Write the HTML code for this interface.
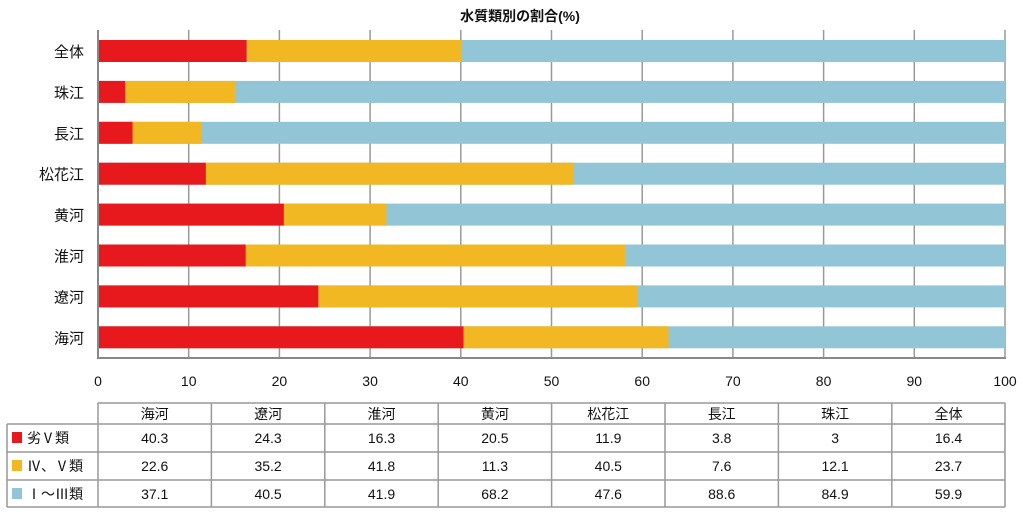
<!DOCTYPE html><html><head><meta charset="utf-8"><style>
body{margin:0;background:#fff;width:1023px;height:518px;overflow:hidden}
</style></head><body>
<svg width="1023" height="518" xmlns="http://www.w3.org/2000/svg" font-family="Liberation Sans, Noto Sans CJK JP, sans-serif" fill="#111">
<text x="520" y="21" font-size="14" font-weight="bold" text-anchor="middle">水質類別の割合(%)</text>
<g stroke="#999" stroke-width="1.5">
<line x1="188.7" y1="30" x2="188.7" y2="358"/><line x1="279.4" y1="30" x2="279.4" y2="358"/><line x1="370.1" y1="30" x2="370.1" y2="358"/><line x1="460.8" y1="30" x2="460.8" y2="358"/><line x1="551.5" y1="30" x2="551.5" y2="358"/><line x1="642.2" y1="30" x2="642.2" y2="358"/><line x1="732.9" y1="30" x2="732.9" y2="358"/><line x1="823.6" y1="30" x2="823.6" y2="358"/><line x1="914.3" y1="30" x2="914.3" y2="358"/><line x1="1005" y1="30" x2="1005" y2="358"/>
</g>
<g fill="#92c5d5">
<rect x="98" y="40" width="907" height="22"/><rect x="98" y="80.9" width="907" height="22"/><rect x="98" y="121.8" width="907" height="22"/><rect x="98" y="162.7" width="907" height="22"/><rect x="98" y="203.6" width="907" height="22"/><rect x="98" y="244.5" width="907" height="22"/><rect x="98" y="285.4" width="907" height="22"/><rect x="98" y="326.3" width="907" height="22"/>
</g>
<g fill="#e8191d">
<rect x="98" y="40" width="148.7" height="22"/><rect x="98" y="80.9" width="27.2" height="22"/><rect x="98" y="121.8" width="34.5" height="22"/><rect x="98" y="162.7" width="107.9" height="22"/><rect x="98" y="203.6" width="185.9" height="22"/><rect x="98" y="244.5" width="147.8" height="22"/><rect x="98" y="285.4" width="220.4" height="22"/><rect x="98" y="326.3" width="365.5" height="22"/>
</g>
<g fill="#f2b824">
<rect x="246.7" y="40" width="215" height="22"/><rect x="125.2" y="80.9" width="109.7" height="22"/><rect x="132.5" y="121.8" width="68.9" height="22"/><rect x="205.9" y="162.7" width="367.3" height="22"/><rect x="283.9" y="203.6" width="102.5" height="22"/><rect x="245.8" y="244.5" width="379.1" height="22"/><rect x="318.4" y="285.4" width="319.3" height="22"/><rect x="463.5" y="326.3" width="205" height="22"/>
</g>
<line x1="98" y1="30" x2="98" y2="359" stroke="#888" stroke-width="2"/>
<line x1="97" y1="358" x2="1006" y2="358" stroke="#888" stroke-width="2"/>
<g font-size="15" text-anchor="end">
<text x="84" y="57">全体</text><text x="84" y="97.9">珠江</text><text x="84" y="138.8">長江</text><text x="84" y="179.7">松花江</text><text x="84" y="220.6">黄河</text><text x="84" y="261.5">淮河</text><text x="84" y="302.4">遼河</text><text x="84" y="343.3">海河</text>
</g>
<g font-size="14" text-anchor="middle">
<text x="98" y="386">0</text><text x="188.7" y="386">10</text><text x="279.4" y="386">20</text><text x="370.1" y="386">30</text><text x="460.8" y="386">40</text><text x="551.5" y="386">50</text><text x="642.2" y="386">60</text><text x="732.9" y="386">70</text><text x="823.6" y="386">80</text><text x="914.3" y="386">90</text><text x="1005" y="386">100</text>
</g>
<g stroke="#999" stroke-width="1.5" fill="none">
<line x1="98" y1="403" x2="1005" y2="403"/><line x1="7" y1="424" x2="1005" y2="424"/><line x1="7" y1="452" x2="1005" y2="452"/><line x1="7" y1="480" x2="1005" y2="480"/><line x1="7" y1="507" x2="1005" y2="507"/>
<line x1="7" y1="424" x2="7" y2="507"/>
<line x1="98" y1="403" x2="98" y2="507"/><line x1="211.4" y1="403" x2="211.4" y2="507"/><line x1="324.8" y1="403" x2="324.8" y2="507"/><line x1="438.2" y1="403" x2="438.2" y2="507"/><line x1="551.6" y1="403" x2="551.6" y2="507"/><line x1="665" y1="403" x2="665" y2="507"/><line x1="778.4" y1="403" x2="778.4" y2="507"/><line x1="891.8" y1="403" x2="891.8" y2="507"/><line x1="1005" y1="403" x2="1005" y2="507"/>
</g>
<rect x="12" y="432" width="10" height="11" fill="#e8191d"/>
<rect x="12" y="460" width="10" height="11" fill="#f2b824"/>
<rect x="12" y="488" width="10" height="11" fill="#92c5d5"/>
<g font-size="14">
<text x="27" y="443">劣Ⅴ類</text><text x="27" y="471">Ⅳ、Ⅴ類</text><text x="27" y="499">Ⅰ～Ⅲ類</text>
</g>
<g font-size="14" text-anchor="middle">
<text x="154.7" y="419">海河</text><text x="268.1" y="419">遼河</text><text x="381.5" y="419">淮河</text><text x="494.9" y="419">黄河</text><text x="608.3" y="419">松花江</text><text x="721.7" y="419">長江</text><text x="835.1" y="419">珠江</text><text x="948.5" y="419">全体</text>
<text x="154.7" y="443">40.3</text><text x="268.1" y="443">24.3</text><text x="381.5" y="443">16.3</text><text x="494.9" y="443">20.5</text><text x="608.3" y="443">11.9</text><text x="721.7" y="443">3.8</text><text x="835.1" y="443">3</text><text x="948.5" y="443">16.4</text>
<text x="154.7" y="471">22.6</text><text x="268.1" y="471">35.2</text><text x="381.5" y="471">41.8</text><text x="494.9" y="471">11.3</text><text x="608.3" y="471">40.5</text><text x="721.7" y="471">7.6</text><text x="835.1" y="471">12.1</text><text x="948.5" y="471">23.7</text>
<text x="154.7" y="499">37.1</text><text x="268.1" y="499">40.5</text><text x="381.5" y="499">41.9</text><text x="494.9" y="499">68.2</text><text x="608.3" y="499">47.6</text><text x="721.7" y="499">88.6</text><text x="835.1" y="499">84.9</text><text x="948.5" y="499">59.9</text>
</g>
</svg></body></html>
